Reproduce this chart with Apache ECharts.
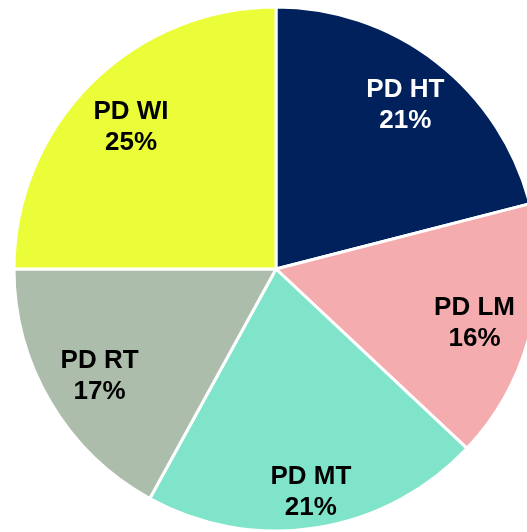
<!DOCTYPE html>
<html>
<head>
<meta charset="utf-8">
<script src="https://cdn.jsdelivr.net/npm/echarts@6/dist/echarts.min.js"></script>
<style>
  html, body { margin: 0; padding: 0; background: #fff; }
  #chart { width: 527px; height: 532px; }
</style>
</head>
<body>
<div id="chart"></div>
<script>
const categories = ["PD HT", "PD LM", "PD MT", "PD RT", "PD WI"];
const shares = [21, 16, 21, 17, 25];
const colors = ["#00215C", "#F4ACAF", "#80E4CA", "#ACBEAB", "#EAFD38"];
const labelColors = ["#fff", "#000", "#000", "#000", "#000"];

// distance of each label from the pie centre (px)
const labelDist = [208, 202, 220, 202, 202];

const chart = echarts.init(document.getElementById("chart"));
const center = [276, 269];
const labelCenter = [276, 272];
const R = 262;

const slices = categories.map((name, i) => ({
  name,
  value: shares[i],
  itemStyle: { color: colors[i] },
}));

const series = [
  {
    type: "pie",
    center,
    radius: [0, R],
    startAngle: 90,
    clockwise: true,
    silent: true,
    label: { show: false },
    labelLine: { show: false },
    itemStyle: { borderColor: "#fff", borderWidth: 3 },
    data: slices,
  },
];

// one transparent ring per slice, just to place its label
categories.forEach((cat, k) => {
  series.push({
    type: "pie",
    center: labelCenter,
    radius: [0, labelDist[k] * 2],
    startAngle: 90,
    clockwise: true,
    silent: true,
    itemStyle: { color: "transparent" },
    labelLine: { show: false },
    label: {
      show: true,
      position: "inside",
      formatter: "{b}\n{c}%",
      fontFamily: "Liberation Sans, Arial, sans-serif",
      fontWeight: "bold",
      fontSize: 26,
      lineHeight: 31,
    },
    data: categories.map((name, i) => ({
      name,
      value: shares[i],
      label: { show: i === k, color: labelColors[i] },
    })),
  });
});

chart.setOption({
  backgroundColor: "#fff",
  animation: false,
  series,
});
</script>
</body>
</html>
